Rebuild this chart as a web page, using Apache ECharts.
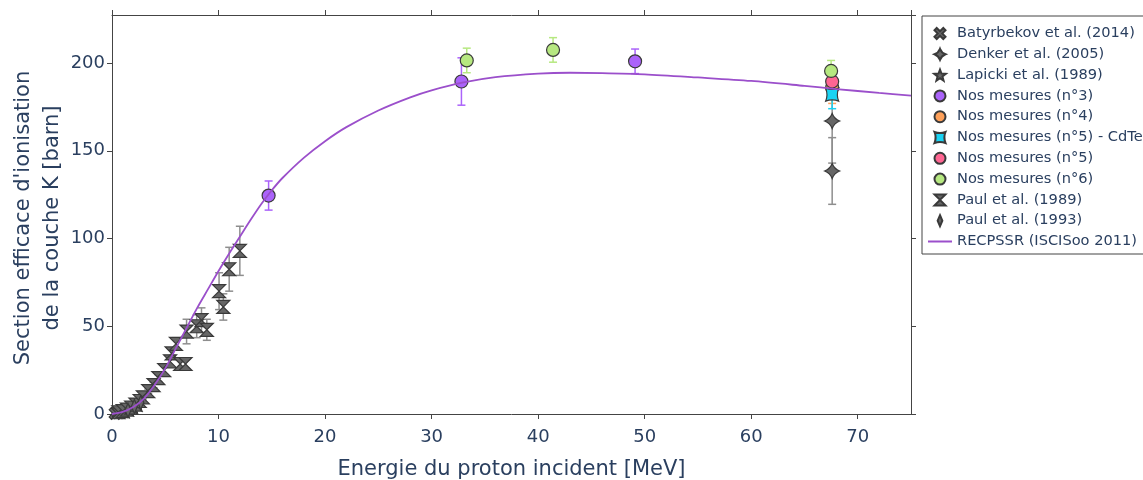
<!DOCTYPE html>
<html>
<head>
<meta charset="utf-8">
<script src="https://cdn.jsdelivr.net/npm/echarts@6/dist/echarts.min.js"></script>
<style>
  html, body { margin: 0; padding: 0; background: #fff; }
  #chart { width: 1143px; height: 480px; }
</style>
</head>
<body>
<div id="chart"></div>
<script>
// [energie MeV, section efficace barn, incertitude]
const batyrbekov2014 = [[0.3, 0.4, 0.1], [0.6, 0.8, 0.1], [0.9, 1.3, 0.15]];
const denker2005 = [[67.6, 167, 24], [67.6, 138.5, 19]];
const lapicki1989 = [[1.2, 1.8, 0.2], [1.6, 2.9, 0.3], [2.0, 4.0, 0.4], [2.4, 5.4, 0.5]];
const mesures3 = [[14.7, 124.5, 8.3], [32.8, 189.5, 13.5], [49.1, 201, 7]];
const mesures4 = [[67.6, 186, 9]];
const mesures5CdTe = [[67.6, 182, 8]];
const mesures5 = [[67.6, 189.5, 4]];
const mesures6 = [[33.3, 201.5, 7], [41.4, 207.5, 7], [67.5, 195.5, 6]];
const paul1989 = [
  [0.6, 1.0, 0.1], [1.0, 1.6, 0.2], [1.4, 2.5, 0.3], [1.8, 3.6, 0.4], [2.2, 5.4, 0.5],
  [2.6, 7.4, 0.7], [2.9, 9.5, 0.9], [3.4, 13, 1.2], [3.9, 16.5, 1.5], [4.35, 20.5, 2],
  [4.9, 25, 2.3], [5.45, 30, 2.7], [5.6, 34.5, 3], [6.0, 40, 3.5], [6.4, 28.5, 2.5],
  [6.9, 28.5, 2.5], [7.0, 47, 7], [7.95, 50, 6.5], [8.4, 53.5, 7], [8.9, 48, 6],
  [10.05, 70, 10.5], [10.45, 61, 7.5], [11.0, 82.5, 12.5], [12.0, 93, 14]
];
const paul1993 = [[1.5, 2.2, 0.2], [2.1, 4.3, 0.4], [2.7, 6.6, 0.6]];
// courbe RECPSSR
const recpssrE = [0, 1, 2, 3, 4, 5, 6, 7, 8, 9, 10, 11, 12, 13, 14, 15, 16, 18, 20, 22, 25, 28, 30, 33, 36, 40, 43, 46, 50, 55, 60, 65, 68, 72, 75];
const recpssrSigma = [0, 1.2, 4, 8.8, 16.5, 26, 37.5, 49, 60.5, 71, 81.5, 91.5, 101, 110.5, 119.5, 127.5, 134.5, 146, 155.5, 163.5, 173, 180.5, 184.5, 189, 192, 194, 194.5, 194.3, 193.6, 191.8, 189.8, 187, 185.2, 183, 181.5];

const xTicks = [0, 10, 20, 30, 40, 50, 60, 70];
const yTicks = [0, 50, 100, 150, 200];

const txt = '#2a3f5f';
const font = 'DejaVu Sans';
const gris = '#666666';
const grisBarre = '#8e8e8e';

const SYM = {
  hourglass: 'path://M0,0L10,0L5,5L10,10L0,10L5,5Z',
  star4: 'path://M5,0Q6.4,3.6 10,5Q6.4,6.4 5,10Q3.6,6.4 0,5Q3.6,3.6 5,0Z',
  star5: 'path://M5,0L6.23,3.3L9.76,3.45L7,5.65L7.94,9.05L5,7.1L2.06,9.05L3,5.65L0.24,3.45L3.77,3.3Z',
  xthick: 'path://M2,0L5,3L8,0L10,2L7,5L10,8L8,10L5,7L2,10L0,8L3,5L0,2Z',
  starSquare: 'path://M0,0Q5,2 10,0Q8,5 10,10Q5,8 0,10Q2,5 0,0Z',
  thinDiamond: 'path://M3,0L6,7L3,14L0,7Z'
};

function errorSeries(data, color) {
  return {
    type: 'custom',
    silent: true,
    z: 2,
    data: data.map(d => [d[0], d[1] - d[2], d[1] + d[2]]),
    encode: { x: 0, y: [1, 2] },
    renderItem: function (params, api) {
      const lo = api.coord([api.value(0), api.value(1)]);
      const hi = api.coord([api.value(0), api.value(2)]);
      const w = 4;
      const st = { stroke: color, lineWidth: 1.5 };
      return {
        type: 'group',
        children: [
          { type: 'line', shape: { x1: lo[0], y1: lo[1], x2: hi[0], y2: hi[1] }, style: st },
          { type: 'line', shape: { x1: lo[0] - w, y1: lo[1], x2: lo[0] + w, y2: lo[1] }, style: st },
          { type: 'line', shape: { x1: hi[0] - w, y1: hi[1], x2: hi[0] + w, y2: hi[1] }, style: st }
        ]
      };
    }
  };
}

function pointSeries(name, data, symbol, size, fill, border) {
  return {
    name: name,
    type: 'scatter',
    symbol: symbol,
    symbolSize: size,
    symbolKeepAspect: true,
    z: 3,
    data: data.map(d => [d[0], d[1]]),
    itemStyle: { color: fill, borderColor: border, borderWidth: 1.2, opacity: 1 }
  };
}

const groups = [
  { name: 'Batyrbekov et al. (2014)', data: batyrbekov2014, symbol: SYM.xthick, size: 12, fill: gris, err: grisBarre },
  { name: 'Denker et al. (2005)', data: denker2005, symbol: SYM.star4, size: 15, fill: gris, err: grisBarre },
  { name: 'Lapicki et al. (1989)', data: lapicki1989, symbol: SYM.star5, size: 14, fill: gris, err: grisBarre },
  { name: 'Nos mesures (n°3)', data: mesures3, symbol: 'circle', size: 13, fill: '#ab63fa', err: '#ab63fa' },
  { name: 'Nos mesures (n°4)', data: mesures4, symbol: 'circle', size: 13, fill: '#FFA15A', err: '#FFA15A' },
  { name: 'Nos mesures (n°5) - CdTe', data: mesures5CdTe, symbol: SYM.starSquare, size: 13, fill: '#19d3f3', err: '#19d3f3' },
  { name: 'Nos mesures (n°5)', data: mesures5, symbol: 'circle', size: 13, fill: '#FF6692', err: '#FF6692' },
  { name: 'Nos mesures (n°6)', data: mesures6, symbol: 'circle', size: 13, fill: '#B6E880', err: '#B6E880' },
  { name: 'Paul et al. (1989)', data: paul1989, symbol: SYM.hourglass, size: 13, fill: gris, err: grisBarre },
  { name: 'Paul et al. (1993)', data: paul1993, symbol: SYM.thinDiamond, size: 14, fill: gris, err: grisBarre }
];

const series = [];
groups.forEach(g => {
  series.push(errorSeries(g.data, g.err));
  series.push(pointSeries(g.name, g.data, g.symbol, g.size, g.fill, '#3a3a3a'));
});
series.push({
  name: 'RECPSSR (ISCISoo 2011)',
  type: 'line',
  symbol: 'none',
  smooth: 0.3,
  z: 4,
  data: recpssrE.map((e, i) => [e, recpssrSigma[i]]),
  lineStyle: { color: '#9b4fcb', width: 1.8 },
  itemStyle: { color: '#9b4fcb', opacity: 0 }
});

const chart = echarts.init(document.getElementById('chart'), null, { renderer: 'canvas' });

const axisLine = { show: true, onZero: false, lineStyle: { color: '#444', width: 1 } };
const axisTick = { show: true, inside: false, length: 5, lineStyle: { color: '#444' } };

chart.setOption({
  animation: false,
  backgroundColor: '#fff',
  textStyle: { fontFamily: font },
  grid: { left: 112, right: 232, top: 15, bottom: 66, containLabel: false, outerBoundsMode: 'none' },
  legend: {
    orient: 'vertical',
    left: 922,
    top: 16,
    padding: [10, 30, 5, 5],
    itemGap: 5.8,
    itemWidth: 24,
    itemHeight: 11,
    backgroundColor: '#fff',
    borderColor: '#444',
    borderWidth: 1,
    borderRadius: 0,
    data: groups.map(g => g.name).concat(['RECPSSR (ISCISoo 2011)']),
    textStyle: { fontFamily: font, fontSize: 14.6, lineHeight: 14, height: 14, color: txt }
  },
  graphic: [
    {
      type: 'text',
      x: 38,
      y: 218,
      rotation: Math.PI / 2,
      style: {
        text: "Section efficace d'ionisation\nde la couche K [barn]",
        fontFamily: font,
        fontSize: 21,
        lineHeight: 29,
        fill: txt,
        align: 'center',
        verticalAlign: 'middle'
      }
    }
  ],
  xAxis: [
    {
      type: 'value',
      min: 0, max: 75, interval: 10,
      position: 'bottom',
      axisLine: axisLine,
      axisTick: axisTick,
      splitLine: { show: false },
      axisLabel: {
        color: txt, fontSize: 18, fontFamily: font, margin: 14, showMaxLabel: false,
        formatter: v => (xTicks.indexOf(v) >= 0 ? String(v) : '')
      },
      name: 'Energie du proton incident [MeV]',
      nameLocation: 'middle',
      nameGap: 45,
      nameTextStyle: { color: txt, fontSize: 21, fontFamily: font }
    },
    {
      type: 'value',
      min: 0, max: 75, interval: 10,
      position: 'top',
      axisLine: axisLine,
      axisTick: axisTick,
      axisLabel: { show: false },
      splitLine: { show: false }
    }
  ],
  yAxis: [
    {
      type: 'value',
      min: 0, max: 227.4, interval: 50,
      position: 'left',
      axisLine: axisLine,
      axisTick: axisTick,
      splitLine: { show: false },
      axisLabel: {
        color: txt, fontSize: 18, fontFamily: font, margin: 7, showMaxLabel: false,
        formatter: v => (yTicks.indexOf(v) >= 0 ? String(v) : '')
      }
    },
    {
      type: 'value',
      min: 0, max: 227.4, interval: 50,
      position: 'right',
      axisLine: axisLine,
      axisTick: axisTick,
      axisLabel: { show: false },
      splitLine: { show: false }
    }
  ],
  series: series
});

window.addEventListener('resize', () => chart.resize());
</script>
</body>
</html>
